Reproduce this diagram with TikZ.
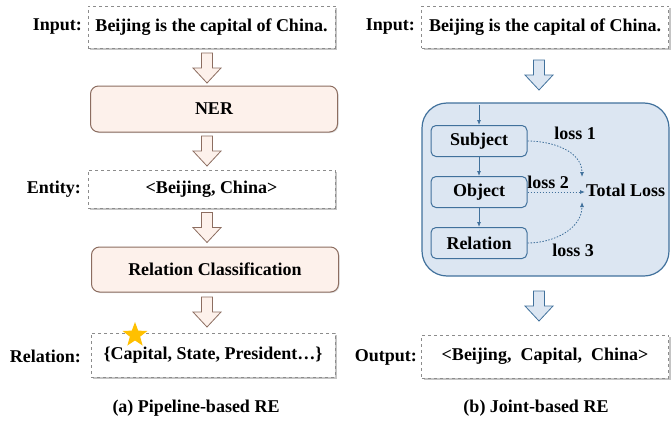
\documentclass[tikz,border=0pt]{standalone}
\usepackage{fontspec}
\setmainfont{Liberation Serif}
\usetikzlibrary{arrows.meta, calc, positioning, shapes.geometric, shadows}

\definecolor{peachfill}{HTML}{FDF1EB}
\definecolor{peachdraw}{HTML}{8C6D60}
\definecolor{bluefill}{HTML}{DCE6F2}
\definecolor{bluedraw}{HTML}{41719C}
\definecolor{starcol}{HTML}{FFC000}

\tikzset{
	txt/.style={font=\fontsize{18}{21}\selectfont\bfseries, inner sep=1pt},
	notebox/.style={txt, draw=black!45, dashed, line width=0.8pt, fill=white,
		minimum width=247pt, minimum height=42pt,
		drop shadow={shadow xshift=2pt, shadow yshift=-2pt, fill=black!45}},
	peachbox/.style={txt, draw=peachdraw, fill=peachfill, line width=1pt,
		rounded corners=8pt, minimum width=247pt, minimum height=46pt,
		drop shadow={shadow xshift=1pt, shadow yshift=-1pt, fill=black!25}},
	pics/downarrow/.style={code={
		\path[pic actions, line width=0.8pt] (-5.5,-15) -- (5.5,-15) -- (5.5,0) -- (14,0)
			-- (0,15) -- (-14,0) -- (-5.5,0) -- cycle;}},
	larrow/.style={draw=peachdraw, fill=peachfill},
	barrow/.style={draw=bluedraw, fill=bluefill},
	bigbox/.style={draw=bluedraw, fill=bluefill, line width=1.2pt, rounded corners=25pt,
		minimum width=247pt, minimum height=173pt},
	stage/.style={txt, draw=bluedraw, fill=bluefill, line width=1pt, rounded corners=5pt,
		minimum width=96pt, minimum height=31pt},
	flow/.style={draw=bluedraw, line width=0.8pt, -{Latex[length=5pt,width=4pt]}},
	lossline/.style={flow, dash pattern=on 1.5pt off 1.5pt}
}

\begin{document}
\begin{tikzpicture}[x=1pt,y=-1pt]
	\useasboundingbox (0,0) rectangle (671,420);

	% (a) pipeline-based
	\node[notebox] (inL) at (211.5,27) {Beijing is the capital of China.};
	\node[peachbox] (ner) at (214,109) {NER};
	\node[notebox, minimum height=38pt] (ent) at (211.5,189) {<Beijing, China>};
	\node[peachbox, minimum height=45pt] (rc) at (215,269.5) {Relation Classification};
	\node[notebox, minimum width=244pt, minimum height=44pt] (rel) at (213,355) {\{Capital, State, President…\}};
	\node[txt, anchor=east] (inLlab) at (83,27) {Input:};
	\node[txt, anchor=east] (entlab) at (82,189) {Entity:};
	\node[txt, anchor=east] (rellab) at (82,356) {Relation:};
	\foreach \n/\y in {a1/68, a2/151, a3/227.5, a4/312}
		\pic[larrow] (\n) at (207,\y) {downarrow};
	\node[star, star points=5, star point ratio=2.4, fill=starcol, minimum size=26pt, inner sep=0pt] (star) at (135,335) {};
	\node[txt] (capA) at (196,408) {(a) Pipeline-based RE};

	% (b) joint-based
	\node[notebox] (inR) at (545,27) {Beijing is the capital of China.};
	\node[txt, anchor=east] (inRlab) at (416,27) {Input:};
	\pic[barrow] (b1) at (539,75) {downarrow};
	\node[bigbox] (joint) at (545.5,189.5) {};
	\node[stage] (subj) at (479,141) {Subject};
	\node[stage, below=19pt of subj] (obj) {Object};
	\node[stage, below=19pt of obj] (relst) {Relation};
	\coordinate (jin) at (479,105);
	\draw[flow] (jin) -- (subj.north);
	\draw[flow] (subj) -- (obj);
	\draw[flow] (obj) -- (relst);
	\node[txt, anchor=west] (total) at (585,190) {Total Loss};
	\coordinate (t1) at (582,177);
	\coordinate (t3) at (582,202);
	\draw[lossline] (subj.east) to[out=0, in=90] (t1);
	\draw[lossline] (obj.east) -- (obj.east -| total.west);
	\draw[lossline] (relst.east) to[out=0, in=-90] (t3);
	\node[txt] (l1) at (575,133) {loss 1};
	\node[txt] (l2) at (548,182) {loss 2};
	\node[txt] (l3) at (573,250) {loss 3};
	\pic[barrow] (b2) at (539,306) {downarrow};
	\node[notebox, minimum height=43pt] (out) at (545,356.5) {<Beijing,\ \ Capital,\ \ China>};
	\node[txt, anchor=east] (outlab) at (418,357) {Output:};
	\node[txt] (capB) at (536,408) {(b) Joint-based RE};
\end{tikzpicture}
\end{document}
